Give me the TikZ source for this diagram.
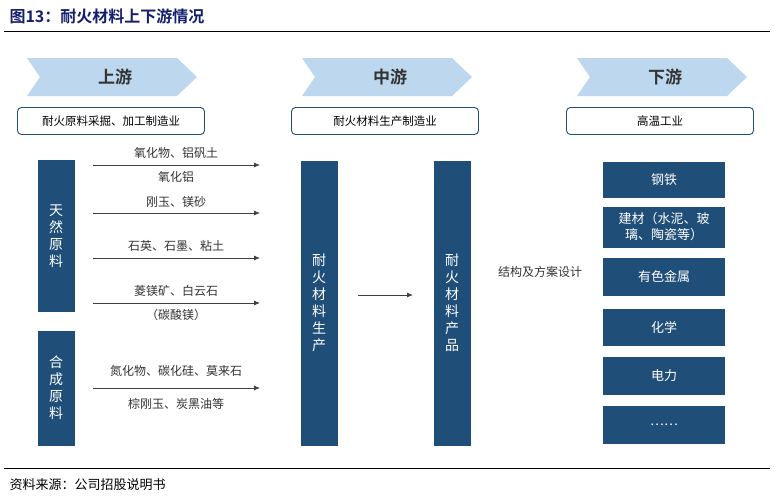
\documentclass[tikz,border=0pt]{standalone}
\usepackage{fontspec}
\setmainfont{Noto Sans CJK SC}
\newfontfamily\cjkb{Noto Sans CJK SC Bold}
\definecolor{chevc}{RGB}{189,215,238}
\definecolor{navy}{RGB}{31,78,121}
\definecolor{ttl}{RGB}{20,30,110}
\usetikzlibrary{arrows.meta}
\begin{document}
\begin{tikzpicture}[x=1pt,y=-1pt,
 chev/.style={fill=chevc,draw=none},
 hbox/.style={draw=navy,rounded corners=4pt,line width=0.9pt,minimum width=187pt,minimum height=27pt,font=\fontsize{11.5}{12}\selectfont},
 dbox/.style={fill=navy,draw=none,text=white,minimum width=37pt,font=\fontsize{14}{17}\selectfont,align=center},
 rbox/.style={fill=navy,draw=none,text=white,minimum width=122pt,font=\fontsize{13}{16}\selectfont,align=center},
 arr/.style={-{Latex[length=6pt,width=5pt]},line width=0.8pt,black!75},
 lab/.style={font=\fontsize{12}{13}\selectfont,text=black!80}]
\useasboundingbox (0,0) rectangle (774,499);
\node[anchor=west,text=ttl,font=\cjkb\fontsize{16}{18}\selectfont] (title) at (6,16) {图13：耐火材料上下游情况};
\draw[line width=0.8pt] (4,31) -- (770,31);
\foreach \x/\t/\n in {27/上游/c1,302/中游/c2,577/下游/c3}{
 \fill[chev] (\x,58) -- (\x+150,58) -- (\x+170,77) -- (\x+150,96) -- (\x,96) -- (\x+13,77) -- cycle;
 \node[font=\cjkb\fontsize{17}{18}\selectfont,text=black!80] (\n) at (\x+88,77) {\t};
}
\node[hbox] (h1) at (111,121) {耐火原料采掘、加工制造业};
\node[hbox] (h2) at (385,121) {耐火材料生产制造业};
\node[hbox] (h3) at (660,121) {高温工业};
\node[dbox,minimum height=152pt] (nat) at (56,236) {天\\然\\原\\料};
\node[dbox,minimum height=115pt] (syn) at (56,388) {合\\成\\原\\料};
\node[dbox,minimum height=285pt] (prod) at (319,303) {耐\\火\\材\\料\\生\\产};
\node[dbox,minimum height=285pt] (prd) at (452,303) {耐\\火\\材\\料\\产\\品};
\foreach \y/\n in {165/a,213/b,258/c,303/d,388/e}{
 \coordinate (s\n) at (93,\y); \coordinate (t\n) at (260,\y);
 \draw[arr] (s\n) -- (t\n);
}
\node[lab] (la) at (176,153) {氧化物、铝矾土};
\node[lab] (la2) at (176,177) {氧化铝};
\node[lab] (lb) at (176,202) {刚玉、镁砂};
\node[lab] (lc) at (176,246) {石英、石墨、粘土};
\node[lab] (ld) at (176,291) {菱镁矿、白云石};
\node[lab] (ld2) at (176,315) {（碳酸镁）};
\node[lab] (le) at (176,371) {氮化物、碳化硅、莫来石};
\node[lab] (le2) at (176,404) {棕刚玉、炭黑油等};
\coordinate (m1) at (358,295); \coordinate (m2) at (413,295);
\draw[arr] (m1) -- (m2);
\node[lab] (jg) at (540,272) {结构及方案设计};
\node[rbox,minimum height=36pt] (r1) at (664,180) {钢铁};
\node[rbox,minimum height=41pt] (r2) at (664,227) {建材（水泥、玻\\璃、陶瓷等）};
\node[rbox,minimum height=38pt] (r3) at (664,277) {有色金属};
\node[rbox,minimum height=37pt] (r4) at (664,327) {化学};
\node[rbox,minimum height=38pt] (r5) at (664,376) {电力};
\node[rbox,minimum height=38pt] (r6) at (664,425) {……};
\draw[line width=0.6pt] (4,468) -- (770,468);
\node[anchor=west,font=\fontsize{13}{14}\selectfont] (src) at (6,485) {资料来源：公司招股说明书};
\end{tikzpicture}
\end{document}
